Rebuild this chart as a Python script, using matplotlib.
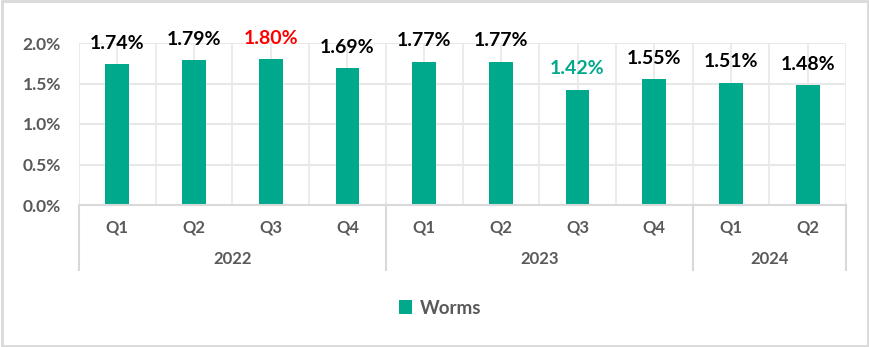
import matplotlib.pyplot as plt
from matplotlib.patches import Rectangle
import matplotlib.transforms as mtransforms

quarters = ['Q1', 'Q2', 'Q3', 'Q4', 'Q1', 'Q2', 'Q3', 'Q4', 'Q1', 'Q2']
years = ['2022', '2023', '2024']
quarters_per_year = [4, 4, 2]
worms = [1.74, 1.79, 1.80, 1.69, 1.77, 1.77, 1.42, 1.55, 1.51, 1.48]
label_colors = ['black', 'black', '#FF0000', 'black', 'black',
                'black', '#00A88C', 'black', 'black', 'black']

bar_color = '#00A88C'
grid_color = '#E8E8E8'
axis_color = '#D9D9D9'
text_color = '#595959'

plt.rcParams['font.family'] = ['Lato', 'DejaVu Sans']

fig = plt.figure(figsize=(8.7, 3.47), dpi=100)
ax = fig.add_axes([79 / 870, 1 - 205 / 347, (846 - 79) / 870, (205 - 43) / 347])

x = list(range(len(worms)))
bars = ax.bar(x, worms, width=0.31, color=bar_color, zorder=3, label='Worms')

ax.set_xlim(-0.5, len(worms) - 0.5)
ax.set_ylim(0, 2.0)
ax.set_yticks([0, 0.5, 1.0, 1.5, 2.0])
ax.set_yticklabels([f'{v:.1f}%' for v in [0, 0.5, 1.0, 1.5, 2.0]])
ax.tick_params(axis='y', length=0, pad=13, labelsize=12.5, labelcolor=text_color)
for t in ax.get_yticklabels():
    t.set_fontweight('bold')
ax.set_xticks([])

# gridlines: horizontal at major ticks, vertical every half category
for v in [0.5, 1.0, 1.5, 2.0]:
    ax.axhline(v, color=grid_color, lw=1.5, zorder=1)
for i in range(2 * len(worms) + 1):
    ax.axvline(-0.5 + i * 0.5, color=grid_color, lw=1.2, zorder=1)

for s in ['top', 'right', 'left']:
    ax.spines[s].set_visible(False)
ax.spines['bottom'].set_color(axis_color)
ax.spines['bottom'].set_linewidth(1.5)
ax.spines['bottom'].set_zorder(4)

# value labels above bars
for xi, v, c in zip(x, worms, label_colors):
    ax.annotate(f'{v:.2f}%', (xi, v), xytext=(0, 9), textcoords='offset points',
                ha='center', va='bottom', fontsize=14, fontweight='bold', color=c)

# two-level category axis
trans = mtransforms.blended_transform_factory(ax.transData, ax.transAxes)
for xi, q in zip(x, quarters):
    ax.text(xi, -0.136, q, transform=trans, ha='center', va='center',
            fontsize=12, fontweight='bold', color=text_color)
start = 0
bounds = [start]
for yr, n in zip(years, quarters_per_year):
    mid = start + (n - 1) / 2
    ax.text(mid, -0.333, yr, transform=trans, ha='center', va='center',
            fontsize=12, fontweight='bold', color=text_color)
    start += n
    bounds.append(start)
for b in bounds:
    ax.plot([b - 0.5, b - 0.5], [0, -0.40], transform=trans, color=axis_color,
            lw=1.5, clip_on=False, zorder=4)

leg = fig.legend(handles=[bars], labels=['Worms'], loc='center',
                 bbox_to_anchor=(440 / 870, 1 - 308 / 347), frameon=False,
                 handlelength=0.7, handleheight=0.7, handletextpad=0.4,
                 prop={'weight': 'bold', 'size': 13.5})
for t in leg.get_texts():
    t.set_color(text_color)

fig.patches.append(Rectangle((0.002, 0.003), 0.996, 0.994, transform=fig.transFigure,
                             fill=False, edgecolor=axis_color, lw=2))

fig.savefig('out.png', dpi=100)
